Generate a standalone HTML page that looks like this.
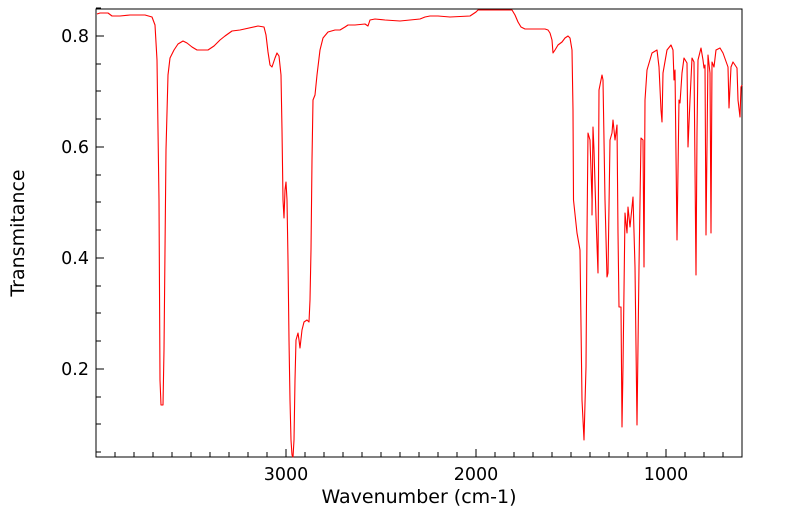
<!DOCTYPE html>
<html><head><meta charset="utf-8"><style>body{margin:0;background:#fff}svg{display:block}text{font-family:"DejaVu Sans","Liberation Sans",sans-serif;fill:#000}</style></head><body>
<svg width="799" height="516" viewBox="0 0 799 516">
<rect x="0" y="0" width="799" height="516" fill="#fff"/>
<g stroke="#000" stroke-width="1">
<path d="M286,457v-8M476,457v-8M666,457v-8M96,36h8M96,147h8M96,258h8M96,369h8"/>
<path d="M115,457v-5M134,457v-5M153,457v-5M172,457v-5M191,457v-5M210,457v-5M229,457v-5M248,457v-5M267,457v-5M305,457v-5M324,457v-5M343,457v-5M362,457v-5M381,457v-5M400,457v-5M419,457v-5M438,457v-5M457,457v-5M495,457v-5M514,457v-5M533,457v-5M552,457v-5M571,457v-5M590,457v-5M609,457v-5M628,457v-5M647,457v-5M685,457v-5M704,457v-5M723,457v-5"/>
<path d="M96,452h5M96,424h5M96,397h5M96,341h5M96,313h5M96,286h5M96,230h5M96,202h5M96,175h5M96,119h5M96,91h5M96,64h5M96,8h5"/>
</g>
<rect x="96" y="9" width="646" height="448" fill="none" stroke="#000" stroke-width="1"/>
<polyline fill="none" stroke="#f00" stroke-width="1.1" stroke-linejoin="round" points="97,14 100,13 108,13 112,16 120,16 130,15 145,15 152,17 155,25 157,60 159,200 160,380 161,405 163,405 164,350 166,150 168,75 170,58 174,50 178,44 183,41 187,43 192,47 197,50 208,50 214,46 220,40 225,36 232,31 240,30 258,26 264,27 266,35 268,52 270,65 272,67 275,58 277,53 279,56 281,75 282,130 283,200 284,218 285,190 286,182 287,200 288,260 289,340 290,400 291,440 292,455 293,457 294,440 295,380 296,340 298,333 299,340 300,348 302,330 304,322 307,320 309,322 310,300 311,250 312,160 313,100 315,95 317,75 320,50 323,38 328,32 335,30 340,30 345,27 348,25 355,25 365,24 368,26 370,20 375,19 385,20 400,21 410,20 420,19 425,17 430,16 438,16 450,17 470,16 476,12 478,10 490,10 505,10 512,10 515,15 518,22 521,27 525,29 545,29 548,30 550,33 552,40 553,53 555,50 558,45 562,42 565,38 568,36 570,38 572,50 573,110 573.5,200 577,233 580,250 582,400 584,440 586,367 587,233 588,133 590,140 592,200 592,215 593,127 594,150 596,217 598,273 599,90 602,75 603,80 605,200 607,277 608,273 610,140 612,133 613,120 615,140 617,125 618,233 619,307 621,307 622,427 623,367 625,213 627,233 628,207 630,227 633,197 635,267 637,425 639,267 641,138 643,140 644,267 645,100 647,70 652,53 657,50 659,67 661,110 662,122 663,73 667,50 671,45 673,50 674,80 675,70 677,240 679,100 680,103 682,73 684,58 687,63 688,147 690,100 692,58 694,62 696,275 697,133 698,60 701,48 703,60 704,68 705,65 706,235 708,55 710,73 711,233 712,62 714,67 716,50 720,48 723,53 728,67 729,108 731,67 733,62 737,68 738,100 740,117 741,87 742,85"/>
<g font-size="17.5" text-anchor="middle">
<text x="286" y="480">3000</text><text x="476" y="480">2000</text><text x="666" y="480">1000</text>
</g>
<g font-size="17.5" text-anchor="end">
<text x="89" y="42">0.8</text><text x="89" y="153">0.6</text><text x="89" y="264">0.4</text><text x="89" y="375">0.2</text>
</g>
<text x="419" y="503" font-size="19" text-anchor="middle">Wavenumber (cm-1)</text>
<text transform="translate(24,233) rotate(-90)" font-size="19" text-anchor="middle">Transmitance</text>
</svg>
</body></html>
